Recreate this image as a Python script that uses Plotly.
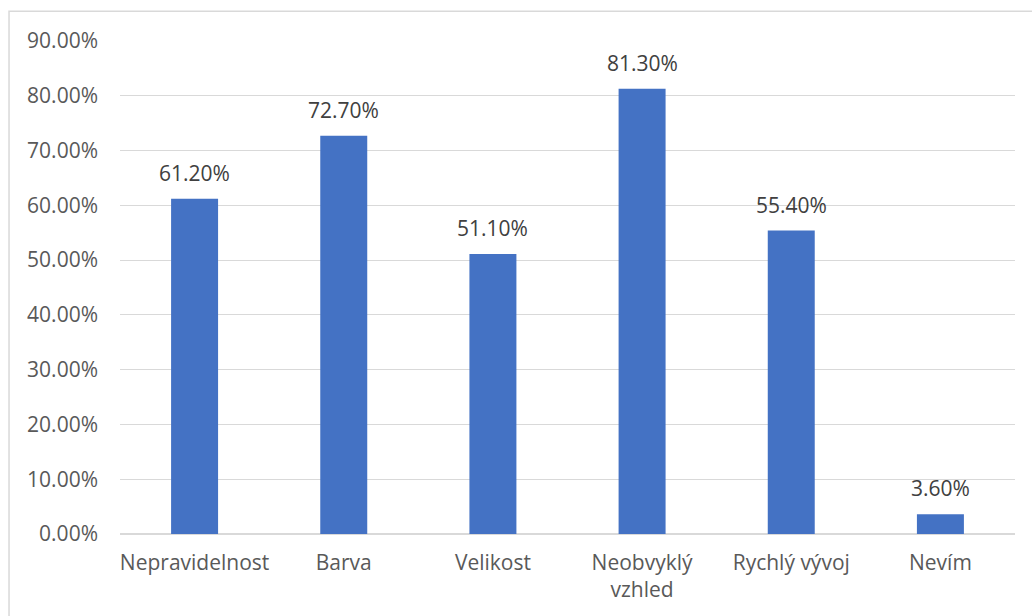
import plotly.graph_objects as go

categories = ["Nepravidelnost", "Barva", "Velikost", "Neobvyklý<br>vzhled", "Rychlý vývoj", "Nevím"]
values = [0.612, 0.727, 0.511, 0.813, 0.554, 0.036]
y_ticks = [i / 10 for i in range(10)]

FONT = "Open Sans"
FS = 21
fig = go.Figure()
fig.add_trace(go.Bar(
    x=categories, y=values,
    marker=dict(color="#4472C4", line=dict(width=0)),
    hoverinfo="skip",
))

for c, v in zip(categories, values):
    fig.add_annotation(
        x=c, y=v, text=f"{v*100:.2f}%", showarrow=False,
        yanchor="bottom", yshift=10,
        font=dict(family=FONT, size=FS, color="#404040"),
    )

# chart border (Excel-style chart area outline)
fig.add_shape(type="rect", xref="paper", yref="paper",
              x0=-0.124, x1=1.05, y0=-0.25, y1=1.0605,
              line=dict(color="#D9D9D9", width=1.5), layer="below")

fig.update_layout(
    width=1032, height=616,
    margin=dict(l=120, r=17, t=41, b=82),
    paper_bgcolor="white", plot_bgcolor="white",
    bargap=0.685,
    showlegend=False,
    font=dict(family=FONT, size=FS, color="#595959"),
    xaxis=dict(
        showgrid=False, showline=False, zeroline=False,
        ticks="", ticklabelstandoff=14,
        tickfont=dict(family=FONT, size=FS, color="#595959"),
    ),
    yaxis=dict(
        range=[0, 0.9], tickvals=y_ticks + [0.9], tickformat=".2%",
        showgrid=True, gridcolor="#D9D9D9", gridwidth=1,
        zeroline=True, zerolinecolor="#D9D9D9", zerolinewidth=1.5,
        showline=False, ticks="", ticklabelstandoff=21,
        tickfont=dict(family=FONT, size=FS, color="#595959"),
    ),
)

fig.write_html("out.html", config={"displayModeBar": False},
               post_script="document.body.style.margin='0';")
